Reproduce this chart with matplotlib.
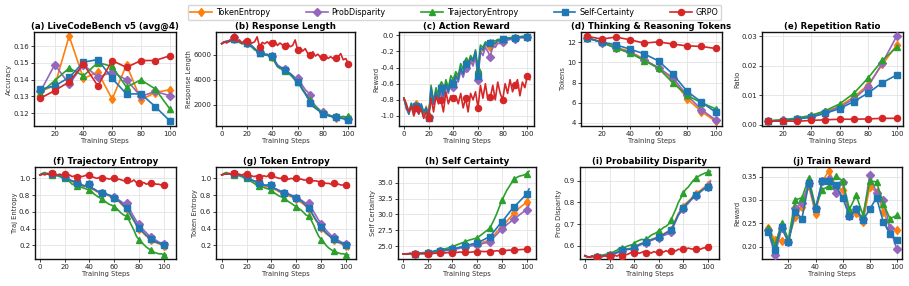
import numpy as np
import matplotlib
matplotlib.use("Agg")
import matplotlib.pyplot as plt

# ---------------- data ----------------
methods = ["TokenEntropy", "ProbDisparity", "TrajectoryEntropy", "Self-Certainty", "GRPO"]
colors = ["#ff7f0e", "#9467bd", "#2ca02c", "#1f77b4", "#d62728"]
markers = ["d", "D", "^", "s", "o"]

steps10 = [10, 20, 30, 40, 50, 60, 70, 80, 90, 100]
steps5 = [5, 10, 15, 20, 25, 30, 35, 40, 45, 50, 55, 60, 65, 70, 75, 80, 85, 90, 95, 100]
steps_dense = list(range(0, 104, 2))

# (a) LiveCodeBench v5 accuracy
lcb_token = [0.133, 0.1365, 0.166, 0.1407, 0.1445, 0.1284, 0.1489, 0.128, 0.1323, 0.134]
lcb_prob = [0.133, 0.149, 0.1373, 0.149, 0.1415, 0.1445, 0.1399, 0.130, 0.133, 0.1305]
lcb_traj = [0.132, 0.1395, 0.1469, 0.1423, 0.1502, 0.1479, 0.1355, 0.1399, 0.1345, 0.1228]
lcb_self = [0.1343, 0.1363, 0.1413, 0.1504, 0.152, 0.1407, 0.1315, 0.1315, 0.124, 0.1156]
lcb_grpo = [0.129, 0.1335, 0.1387, 0.1493, 0.1363, 0.1514, 0.1473, 0.1514, 0.1514, 0.1542]

# (b) Response length
len_token = [6900,7050,7050,7100,7200,7250,7100,7000,6900,6950, 6950,6850,6650,6450,6350,6200,6200,6050,6000,5950,
             5850,5450,5150,4950,4900,4750,4600,4450,4250,4050, 3900,3550,3250,2950,2600,2300,2000,1800,1600,1450,
             1300,1200,1150,1050,1000,950,950,920,900,900, 900,900]
len_prob = [6900,7050,7100,7150,7300,7400,7150,7050,6950,7000, 6950,6850,6700,6500,6350,6200,6250,6050,6000,5950,
            5900,5550,5200,5050,4950,4850,4650,4500,4350,4150, 4100,3800,3500,3200,3000,2800,2200,1900,1700,1500,
            1400,1300,1200,1100,1050,1000,980,950,900,880, 850,850]
len_traj = [6900,7000,7050,7100,7200,7250,7150,7000,6900,6950, 6950,6800,6600,6400,6300,6150,6150,6000,5950,5900,
            5800,5400,5050,4900,4850,4700,4500,4400,4200,3950, 3800,3500,3150,2850,2550,2350,2050,1850,1650,1450,
            1300,1250,1150,1100,1050,1050,1000,1000,1050,1000, 1050,1050]
len_self = [6900,7000,7100,7050,7250,7300,7150,7050,6900,7000, 6950,6800,6700,6500,6300,6150,6250,6000,6050,5900,
            5900,5500,5100,5000,4900,4800,4550,4500,4300,4000, 3850,3600,3200,2900,2500,2100,1850,1700,1550,1400,
            1250,1200,1100,1050,1000,980,950,900,850,800, 750,700]
len_grpo = [6900,7050,6950,7150,7250,7400,7100,7200,6950,7150, 7100,7000,6950,7050,7450,6600,7000,6900,7050,6850,
            6950,7150,6750,6950,6800,6700,6950,6650,6750,7200, 6400,6600,6300,6500,6100,6000,6250,5900,6050,5800,
            5850,6000,5700,5850,5700,5750,5850,6100,5600,5700, 5300,5200]

# (c) Action reward
act_token = [-0.78,-0.92,-0.95,-0.88,-0.98,-0.85,-0.95,-0.9,-1.0,-0.88, -1.0,-0.7,-0.82,-0.68,-0.78,-0.68,-0.78,-0.62,-0.68,-0.58,
             -0.62,-0.48,-0.52,-0.42,-0.5,-0.38,-0.42,-0.3,-0.35,-0.22, -0.45,-0.18,-0.2,-0.12,-0.15,-0.15,-0.1,-0.12,-0.08,-0.08,
             -0.06,-0.06,-0.05,-0.04,-0.04,-0.03,-0.03,-0.03,-0.02,-0.02, -0.02,-0.02]
act_prob = [-0.78,-0.9,-0.97,-0.86,-0.96,-0.88,-0.97,-0.88,-0.98,-0.9, -1.01,-0.68,-0.86,-0.72,-0.82,-0.7,-0.8,-0.64,-0.72,-0.58,
            -0.64,-0.52,-0.58,-0.44,-0.52,-0.4,-0.45,-0.32,-0.38,-0.25, -0.55,-0.2,-0.25,-0.15,-0.2,-0.27,-0.12,-0.15,-0.1,-0.1,
            -0.08,-0.07,-0.06,-0.05,-0.05,-0.04,-0.04,-0.03,-0.03,-0.03, -0.02,-0.02]
act_traj = [-0.78,-0.88,-0.96,-0.84,-0.95,-0.86,-0.96,-0.86,-0.97,-0.9, -1.0,-0.62,-0.82,-0.65,-0.75,-0.6,-0.72,-0.55,-0.65,-0.5,
            -0.55,-0.45,-0.5,-0.35,-0.42,-0.3,-0.35,-0.25,-0.3,-0.18, -0.42,-0.12,-0.15,-0.08,-0.1,-0.08,-0.06,-0.07,-0.05,-0.05,
            -0.04,-0.04,-0.03,-0.03,-0.02,-0.02,-0.02,-0.02,-0.01,-0.01, -0.01,-0.01]
act_self = [-0.78,-0.9,-0.98,-0.85,-0.95,-0.88,-0.98,-0.85,-0.95,-0.9, -1.02,-0.65,-0.85,-0.7,-0.8,-0.65,-0.75,-0.6,-0.7,-0.55,
            -0.6,-0.5,-0.55,-0.4,-0.48,-0.35,-0.4,-0.28,-0.32,-0.2, -0.5,-0.15,-0.18,-0.1,-0.13,-0.1,-0.08,-0.1,-0.06,-0.07,
            -0.05,-0.05,-0.04,-0.04,-0.03,-0.03,-0.02,-0.02,-0.02,-0.02, -0.02,-0.02]
act_grpo = [-0.78,-0.85,-0.95,-0.88,-1.0,-0.9,-0.97,-0.92,-1.03,-0.95, -1.02,-0.78,-0.95,-0.75,-0.85,-0.8,-0.95,-0.7,-0.85,-0.75,
            -0.78,-0.75,-0.85,-0.72,-0.9,-0.78,-0.95,-0.72,-0.8,-0.7, -0.9,-0.62,-0.78,-0.6,-0.8,-0.77,-0.62,-0.8,-0.58,-0.72,
            -0.8,-0.6,-0.72,-0.55,-0.7,-0.62,-0.55,-0.75,-0.58,-0.65, -0.5,-0.55]

# (d) Thinking & reasoning tokens
tok_token = [12.45, 12.0, 11.5, 11.07, 10.3, 9.4, 8.3, 6.4, 5.13, 4.17]
tok_prob = [12.4, 11.95, 11.4, 11.0, 10.23, 9.47, 8.47, 6.73, 5.33, 4.3]
tok_traj = [12.4, 12.0, 11.4, 10.9, 10.17, 9.4, 7.97, 6.73, 6.0, 5.4]
tok_self = [12.4, 12.0, 11.73, 11.3, 10.83, 10.13, 8.83, 7.13, 6.07, 5.07]
tok_grpo = [12.57, 12.3, 12.5, 12.23, 11.9, 12.03, 11.8, 11.63, 11.57, 11.37]

# (e) Repetition ratio
rep_token = [0.0013, 0.0016, 0.0021, 0.0030, 0.0044, 0.0063, 0.0095, 0.0135, 0.0205, 0.0270]
rep_prob = [0.0013, 0.0015, 0.0020, 0.0028, 0.0042, 0.0060, 0.0088, 0.0130, 0.0210, 0.0300]
rep_traj = [0.0014, 0.0017, 0.0023, 0.0032, 0.0048, 0.0071, 0.0107, 0.0159, 0.0219, 0.0263]
rep_self = [0.0013, 0.0014, 0.0019, 0.0026, 0.0039, 0.0055, 0.0079, 0.0108, 0.0143, 0.0169]
rep_grpo = [0.0012, 0.0013, 0.0012, 0.0015, 0.0017, 0.0019, 0.0019, 0.0020, 0.0022, 0.0022]

# (f) Trajectory entropy
trj_token = [1.04,1.05,1.05,1.05,1.05,1.05,1.04,1.04,1.03,1.02, 1.01,0.99,0.97,0.96,0.95,0.94,0.92,0.91,0.9,0.91,
             0.92,0.87,0.86,0.84,0.83,0.82,0.81,0.8,0.79,0.77, 0.76,0.74,0.72,0.69,0.66,0.64,0.59,0.54,0.49,0.44,
             0.4,0.37,0.34,0.31,0.29,0.27,0.25,0.23,0.22,0.21, 0.19,0.15]
trj_prob = [1.04,1.05,1.05,1.05,1.05,1.05,1.04,1.04,1.03,1.02, 1.01,1.0,0.98,0.97,0.96,0.95,0.93,0.92,0.91,0.92,
            0.93,0.88,0.87,0.85,0.84,0.83,0.82,0.81,0.8,0.79, 0.78,0.76,0.74,0.72,0.7,0.7,0.65,0.59,0.54,0.49,
            0.45,0.41,0.38,0.35,0.32,0.3,0.28,0.26,0.24,0.23, 0.22,0.19]
trj_traj = [1.04,1.06,1.07,1.05,1.05,1.04,1.03,1.03,1.02,1.01, 1.0,0.98,0.96,0.93,0.92,0.91,0.9,0.89,0.88,0.87,
            0.86,0.84,0.81,0.79,0.77,0.75,0.73,0.71,0.69,0.68, 0.66,0.64,0.61,0.58,0.56,0.55,0.5,0.44,0.38,0.31,
            0.27,0.24,0.21,0.18,0.16,0.14,0.12,0.11,0.1,0.1, 0.09,0.085]
trj_self = [1.04,1.05,1.05,1.05,1.05,1.05,1.04,1.04,1.03,1.02, 1.01,1.0,0.98,0.97,0.96,0.95,0.93,0.92,0.91,0.92,
            0.93,0.88,0.87,0.85,0.84,0.83,0.82,0.81,0.8,0.78, 0.77,0.75,0.73,0.7,0.67,0.65,0.6,0.55,0.5,0.45,
            0.41,0.38,0.35,0.32,0.3,0.28,0.26,0.24,0.23,0.22, 0.2,0.17]
trj_grpo = [1.04,1.05,1.04,1.06,1.05,1.06,1.05,1.04,1.05,1.04, 1.05,1.03,1.04,1.02,1.03,1.02,1.03,1.02,1.03,1.04,
            1.04,1.02,1.01,1.0,1.01,1.0,0.99,1.0,0.99,1.0, 1.0,0.98,0.99,0.98,0.97,0.98,0.97,0.96,0.98,0.95,
            0.95,0.94,0.95,0.93,0.94,0.95,0.94,0.93,0.93,0.92, 0.92,0.89]

# (g) Token entropy
ent_token = [1.04,1.05,1.05,1.05,1.05,1.05,1.04,1.04,1.03,1.02, 1.01,0.99,0.98,0.96,0.95,0.94,0.93,0.91,0.9,0.91,
             0.91,0.87,0.86,0.84,0.83,0.81,0.8,0.79,0.78,0.77, 0.75,0.73,0.71,0.69,0.66,0.64,0.59,0.54,0.49,0.45,
             0.41,0.37,0.34,0.32,0.29,0.27,0.25,0.23,0.22,0.2, 0.19,0.15]
ent_prob = [1.04,1.05,1.05,1.05,1.05,1.05,1.04,1.04,1.03,1.02, 1.01,1.0,0.98,0.97,0.96,0.95,0.94,0.92,0.91,0.92,
            0.92,0.88,0.87,0.86,0.84,0.83,0.82,0.81,0.8,0.79, 0.77,0.76,0.74,0.72,0.7,0.7,0.65,0.6,0.55,0.5,
            0.46,0.42,0.38,0.35,0.32,0.3,0.28,0.26,0.24,0.23, 0.22,0.19]
ent_traj = [1.04,1.06,1.07,1.05,1.05,1.04,1.03,1.03,1.02,1.01, 1.0,0.98,0.96,0.94,0.92,0.91,0.9,0.89,0.88,0.87,
            0.86,0.83,0.81,0.79,0.78,0.76,0.74,0.72,0.7,0.68, 0.66,0.64,0.62,0.59,0.56,0.55,0.5,0.44,0.37,0.31,
            0.27,0.24,0.2,0.17,0.15,0.13,0.12,0.11,0.1,0.1, 0.09,0.085]
ent_self = [1.04,1.05,1.05,1.05,1.05,1.05,1.04,1.04,1.03,1.02, 1.01,1.0,0.98,0.97,0.96,0.95,0.93,0.92,0.92,0.92,
            0.92,0.88,0.87,0.85,0.84,0.83,0.82,0.81,0.79,0.78, 0.76,0.75,0.73,0.7,0.67,0.65,0.6,0.55,0.5,0.46,
            0.42,0.38,0.35,0.32,0.3,0.28,0.26,0.24,0.23,0.22, 0.2,0.17]
ent_grpo = [1.04,1.05,1.05,1.06,1.05,1.06,1.05,1.05,1.04,1.05, 1.05,1.03,1.03,1.02,1.03,1.02,1.02,1.03,1.02,1.04,
            1.04,1.02,1.01,1.0,1.0,1.0,1.0,0.99,1.0,0.99, 1.0,0.99,0.99,0.98,0.98,0.98,0.97,0.97,0.97,0.96,
            0.95,0.95,0.94,0.94,0.93,0.95,0.94,0.93,0.92,0.92, 0.92,0.89]

# (h) Self certainty
cert_token = [23.8,23.8,23.8,23.85,23.8,23.8,23.85,23.9,23.9,23.95, 24.0,24.05,24.1,24.15,24.2,24.25,24.3,24.35,24.4,24.45,
              24.5,24.6,24.7,24.8,24.9,25.0,25.1,25.2,25.3,25.35, 25.4,25.5,25.6,25.7,25.85,26.0,26.4,26.8,27.3,27.7,
              28.1,28.5,28.9,29.4,29.8,30.25,30.6,31.0,31.3,31.6, 32.0,32.8]
cert_prob = [23.8,23.8,23.8,23.85,23.8,23.8,23.85,23.85,23.9,23.9, 23.95,24.0,24.05,24.1,24.15,24.2,24.25,24.3,24.35,24.4,
             24.45,24.5,24.6,24.7,24.8,24.9,24.95,25.0,25.1,25.15, 25.2,25.3,25.4,25.5,25.6,25.7,26.1,26.5,26.9,27.3,
             27.65,28.0,28.4,28.7,29.0,29.3,29.6,29.9,30.2,30.5, 30.7,31.5]
cert_traj = [23.8,23.8,23.85,23.8,23.85,23.85,23.9,23.95,24.0,24.0, 24.05,24.1,24.2,24.3,24.4,24.45,24.5,24.6,24.7,24.8,
             24.95,25.1,25.25,25.4,25.55,25.7,25.85,26.0,26.1,26.2, 26.35,26.6,26.9,27.2,27.5,27.8,28.5,29.3,30.2,31.2,
             32.2,33.0,33.8,34.4,35.0,35.5,35.8,36.0,36.1,36.2, 36.4,36.8]
cert_self = [23.8,23.8,23.8,23.85,23.8,23.8,23.85,23.9,23.9,23.95, 24.0,24.05,24.1,24.2,24.25,24.3,24.35,24.4,24.45,24.5,
             24.55,24.65,24.75,24.85,24.95,25.05,25.15,25.25,25.35,25.45, 25.5,25.7,25.9,26.1,26.3,26.5,26.9,27.4,27.9,28.4,
             28.85,29.3,29.8,30.3,30.8,31.2,31.6,32.0,32.4,32.8, 33.2,34.0]
cert_grpo = [23.8,23.75,23.8,23.9,23.8,23.75,23.8,23.85,23.8,23.85, 23.8,23.9,23.85,23.9,23.95,23.95,23.9,23.95,24.0,23.95,
             23.9,24.0,24.05,24.1,24.05,24.1,24.1,24.05,24.1,24.15, 24.1,24.15,24.2,24.15,24.2,24.15,24.2,24.25,24.3,24.25,
             24.3,24.35,24.35,24.4,24.35,24.4,24.45,24.45,24.5,24.5, 24.5,24.75]

# (i) Probability disparity
pd_token = [0.555,0.55,0.55,0.552,0.55,0.55,0.552,0.553,0.555,0.557, 0.558,0.562,0.567,0.572,0.577,0.582,0.584,0.587,0.588,0.59,
            0.592,0.602,0.607,0.612,0.614,0.619,0.624,0.63,0.634,0.638, 0.642,0.648,0.655,0.662,0.668,0.675,0.7,0.725,0.75,0.765,
            0.78,0.795,0.805,0.815,0.83,0.84,0.848,0.855,0.865,0.872, 0.878,0.9]
pd_prob = [0.555,0.55,0.55,0.552,0.55,0.55,0.552,0.553,0.554,0.555, 0.556,0.558,0.563,0.568,0.572,0.577,0.58,0.583,0.584,0.587,
           0.588,0.597,0.602,0.607,0.61,0.614,0.62,0.625,0.63,0.634, 0.638,0.642,0.648,0.652,0.656,0.662,0.69,0.715,0.74,0.755,
           0.77,0.785,0.795,0.81,0.82,0.83,0.84,0.848,0.858,0.865, 0.872,0.895]
pd_traj = [0.555,0.55,0.55,0.552,0.553,0.555,0.556,0.558,0.56,0.563, 0.565,0.568,0.575,0.58,0.59,0.592,0.593,0.598,0.602,0.605,
           0.611,0.62,0.625,0.63,0.628,0.632,0.64,0.65,0.655,0.66, 0.67,0.675,0.685,0.69,0.7,0.72,0.745,0.77,0.8,0.82,
           0.843,0.86,0.87,0.885,0.9,0.91,0.918,0.925,0.93,0.935, 0.937,0.942]
pd_self = [0.555,0.55,0.55,0.552,0.55,0.55,0.552,0.553,0.555,0.556, 0.557,0.56,0.565,0.57,0.575,0.58,0.582,0.585,0.585,0.588,
           0.59,0.6,0.605,0.61,0.612,0.617,0.622,0.628,0.632,0.636, 0.64,0.645,0.652,0.66,0.665,0.672,0.695,0.72,0.745,0.76,
           0.775,0.79,0.8,0.81,0.825,0.835,0.842,0.85,0.858,0.865, 0.87,0.885]
pd_grpo = [0.555,0.55,0.548,0.553,0.55,0.548,0.552,0.55,0.555,0.553, 0.552,0.555,0.558,0.553,0.56,0.556,0.562,0.56,0.565,0.572,
           0.568,0.572,0.566,0.57,0.575,0.568,0.572,0.567,0.574,0.57, 0.57,0.575,0.572,0.578,0.573,0.575,0.58,0.577,0.585,0.583,
           0.588,0.585,0.59,0.587,0.585,0.586,0.588,0.585,0.59,0.592, 0.595,0.605]

# (j) Train reward (no GRPO)
rw_token = [0.241,0.214,0.213,0.215,0.264,0.285,0.33,0.27,0.34,0.363,0.328,0.321,0.268,0.273,0.253,0.328,0.317,0.275,0.241,0.235]
rw_prob = [0.235,0.182,0.239,0.21,0.282,0.294,0.336,0.282,0.341,0.344,0.314,0.339,0.266,0.28,0.259,0.354,0.315,0.30,0.239,0.194]
rw_traj = [0.239,0.203,0.251,0.216,0.30,0.305,0.347,0.285,0.322,0.33,0.351,0.341,0.28,0.31,0.268,0.34,0.339,0.292,0.26,0.267]
rw_self = [0.232,0.193,0.243,0.209,0.275,0.26,0.336,0.28,0.341,0.341,0.331,0.305,0.265,0.28,0.257,0.28,0.305,0.253,0.228,0.214]

# ---------------- plotting ----------------
W, H = 909, 286
fig = plt.figure(figsize=(W / 100, H / 100), dpi=100)

def rect(l, r, t, b):
    return [l / W, 1 - b / H, (r - l) / W, (b - t) / H]

top_cols = [(34, 176), (216, 355), (399, 534), (581, 722), (762, 903)]
bot_cols = [(35, 176), (216, 356), (398, 536), (580, 719), (762, 902)]

panels = [
    ("(a) LiveCodeBench v5 (avg@4)", "Accuracy", steps10, [lcb_token, lcb_prob, lcb_traj, lcb_self, lcb_grpo], None),
    ("(b) Response Length", "Response Length", steps_dense, [len_token, len_prob, len_traj, len_self, len_grpo], slice(5, None, 5)),
    ("(c) Action Reward", "Reward", steps_dense, [act_token, act_prob, act_traj, act_self, act_grpo], slice(5, None, 5)),
    ("(d) Thinking & Reasoning Tokens", "Tokens", steps10, [tok_token, tok_prob, tok_traj, tok_self, tok_grpo], None),
    ("(e) Repetition Ratio", "Ratio", steps10, [rep_token, rep_prob, rep_traj, rep_self, rep_grpo], None),
    ("(f) Trajectory Entropy", "Traj Entropy", steps_dense, [trj_token, trj_prob, trj_traj, trj_self, trj_grpo], slice(5, None, 5)),
    ("(g) Token Entropy", "Token Entropy", steps_dense, [ent_token, ent_prob, ent_traj, ent_self, ent_grpo], slice(5, None, 5)),
    ("(h) Self Certainty", "Self Certainty", steps_dense, [cert_token, cert_prob, cert_traj, cert_self, cert_grpo], slice(5, None, 5)),
    ("(i) Probability Disparity", "Prob Disparity", steps_dense, [pd_token, pd_prob, pd_traj, pd_self, pd_grpo], slice(5, None, 5)),
    ("(j) Train Reward", "Reward", steps5, [rw_token, rw_prob, rw_traj, rw_self], None),
]

xlims = [(5.5, 104.5), (-4.5, 105.3), (-4.0, 105.4), (5.5, 104.5), (5.5, 104.5),
         (-4.0, 110.0), (-4.6, 108.0), (-4.0, 107.6), (-4.0, 109.0), (0.5, 103.8)]
ylims = [(0.1124, 0.1684), (270, 7838), (-1.125, 0.042), (3.7, 13.0), (-0.0004, 0.0315),
         (0.038, 1.135), (0.038, 1.135), (23.0, 37.45), (0.54, 0.962), (0.1736, 0.3706)]
yticks = [[0.12, 0.13, 0.14, 0.15, 0.16], [2000, 4000, 6000], [-1.0, -0.8, -0.6, -0.4, -0.2, 0.0],
          [4, 6, 8, 10, 12], [0.0, 0.01, 0.02, 0.03], [0.2, 0.4, 0.6, 0.8, 1.0], [0.2, 0.4, 0.6, 0.8, 1.0],
          [25.0, 27.5, 30.0, 32.5, 35.0], [0.6, 0.7, 0.8, 0.9], [0.20, 0.25, 0.30, 0.35]]
yfmt = ["%.2f", "%d", "%.1f", "%d", "%.2f", "%.1f", "%.1f", "%.1f", "%.1f", "%.2f"]
xticks_top = [20, 40, 60, 80, 100]
xticks_dense = [0, 20, 40, 60, 80, 100]

axes = []
for i, (title, ylabel, xs, series, mev) in enumerate(panels):
    row = i // 5
    col = i % 5
    if row == 0:
        l, r = top_cols[col]
        ax = fig.add_axes(rect(l, r, 32, 126))
    else:
        l, r = bot_cols[col]
        ax = fig.add_axes(rect(l, r, 167, 259))
    axes.append(ax)
    dense = mev is not None
    for k, ys in enumerate(series):
        ms = 4.4 if markers[k] not in ("D",) else 3.6
        ax.plot(xs, ys, color=colors[k], marker=markers[k], lw=1.2,
                ms=ms, markevery=mev, label=methods[k], zorder=2 + k)
    ax.set_title(title, fontsize=6.2, fontweight="bold", pad=2.5)
    ax.set_xlabel("Training Steps", fontsize=4.9, labelpad=1.0, color="#333333")
    ax.set_ylabel(ylabel, fontsize=4.9, labelpad=1.0, color="#333333")
    ax.set_xlim(*xlims[i])
    ax.set_ylim(*ylims[i])
    ax.set_yticks(yticks[i])
    ax.yaxis.set_major_formatter(matplotlib.ticker.FormatStrFormatter(yfmt[i]))
    if dense:
        ax.set_xticks(xticks_dense)
    else:
        ax.set_xticks(xticks_top)
    ax.tick_params(labelsize=5.0, length=2, width=0.6, pad=1.5, colors="#222222")
    ax.grid(True, color="#e3e3e3", linewidth=0.6)
    ax.set_axisbelow(True)
    for s in ax.spines.values():
        s.set_linewidth(1.0)
        s.set_color("#111111")

handles, labels = axes[0].get_legend_handles_labels()
fig.legend(handles, labels, loc="upper center", ncol=5, bbox_to_anchor=(0.5, 0.995),
           fontsize=5.8, frameon=True, handlelength=2.7, columnspacing=4.4, handletextpad=0.5,
           borderpad=0.35, fancybox=True, edgecolor="#cccccc")

fig.savefig("out.png", dpi=100)
